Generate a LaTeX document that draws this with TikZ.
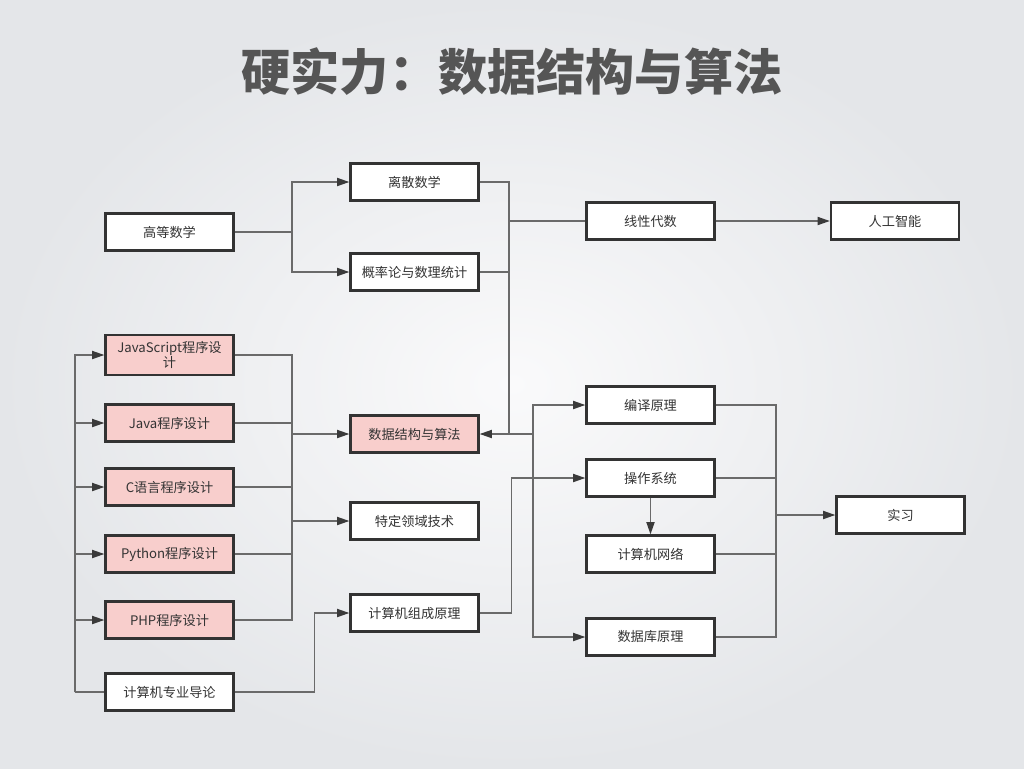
\documentclass[tikz,border=0pt]{standalone}
\usepackage{fontspec}
\setmainfont{Noto Sans CJK SC}
\usetikzlibrary{arrows.meta, positioning}
\definecolor{BoxBorder}{HTML}{333333}
\definecolor{BoxPink}{HTML}{F8CECC}
\definecolor{LineGray}{HTML}{6A6A6A}
\definecolor{TipGray}{HTML}{3A3A3A}
\definecolor{TitleGray}{HTML}{555555}
\definecolor{BgInner}{HTML}{FAFAFB}
\definecolor{BgOuter}{HTML}{E4E6E9}
\tikzset{
    % Node styles
    coursebox/.style={
        rectangle,
        draw=BoxBorder,
        fill=white,
        line width=1.3pt,
        minimum width=2.56cm,
        minimum height=0.74cm,
        align=center,
        text=BoxBorder,
        font=\fontsize{7.5}{9}\selectfont
    },
    keybox/.style={
        coursebox,
        fill=BoxPink
    },
    % Arrow styles
    myline/.style={
        LineGray,
        line width=0.9pt
    },
    myarrow/.style={
        myline,
        -{Triangle[length=7pt,width=4.6pt,color=TipGray]}
    }
}
\begin{document}
\begin{tikzpicture}[x=0.02cm, y=-0.02cm]
    % Background
    \shade[inner color=BgInner, outer color=BgOuter] (0,0) rectangle (1024,768);
    \useasboundingbox (0,0) rectangle (1024,768);

    % Title
    \node[font=\bfseries\fontsize{28}{32}\selectfont, text=TitleGray] (title) at (512,72) {硬实力：数据结构与算法};

    % Maths (top)
    \node[coursebox] (gdsx) at (169.5,232) {高等数学};
    \node[coursebox] (lssx) at (414.5,182) {离散数学};
    \node[coursebox] (glts) at (414.5,272) {概率论与数理统计};
    \node[coursebox] (xxds) at (650.5,221) {线性代数};
    \node[coursebox] (rgzn) at (895,221) {人工智能};

    % Programming (left)
    \node[keybox] (jsbox) at (169.5,355) {JavaScript程序设\\计};
    \node[keybox] (javabox) at (169.5,423) {Java程序设计};
    \node[keybox] (cbox) at (169.5,487) {C语言程序设计};
    \node[keybox] (pybox) at (169.5,554) {Python程序设计};
    \node[keybox] (phpbox) at (169.5,620) {PHP程序设计};
    \node[coursebox] (jsjdl) at (169.5,692) {计算机专业导论};

    % Middle
    \node[keybox] (sjjg) at (414.5,434) {数据结构与算法};
    \node[coursebox] (tdly) at (414.5,521) {特定领域技术};
    \node[coursebox] (jsjzc) at (414.5,613) {计算机组成原理};

    % Systems (right)
    \node[coursebox] (byyl) at (650.5,405) {编译原理};
    \node[coursebox] (czxt) at (650.5,478) {操作系统};
    \node[coursebox] (jsjwl) at (650.5,554) {计算机网络};
    \node[coursebox] (sjkyl) at (650.5,637) {数据库原理};
    \node[coursebox] (sx) at (900.5,515) {实习};

    % Junctions
    \coordinate (jm) at (292,232);
    \coordinate (jr) at (509,434);
    \coordinate (jb) at (533,434);
    \coordinate (jl) at (75,692);
    \coordinate (jp) at (292,434);
    \coordinate (js) at (776,515);

    % Maths links
    \draw[myline] (gdsx.east) -- (jm);
    \draw[myarrow] (jm) |- (lssx.west);
    \draw[myarrow] (jm) |- (glts.west);
    \draw[myline] (lssx.east) -| (jr);
    \draw[myline] (glts.east) -- (glts.east -| jr);
    \draw[myline] (xxds.west) -- (xxds.west -| jr);
    \draw[myarrow] (xxds) -- (rgzn);

    % Into data structures
    \draw[myline] (jr) -- (jb);
    \draw[myarrow] (jb) -- (sjjg.east);
    \draw[myarrow] (jb) |- (byyl.west);
    \draw[myarrow] (jb) |- (sjkyl.west);

    % Programming links
    \draw[myline] (jsjdl.west) -- (jl);
    \foreach \n in {jsbox,javabox,cbox,pybox,phpbox}
        \draw[myarrow] (jl) |- (\n.west);
    \foreach \n in {jsbox,javabox,cbox,pybox,phpbox}
        \draw[myline] (\n.east) -| (jp);
    \draw[myarrow] (jp) -- (sjjg.west);
    \draw[myarrow] (jp) |- (tdly.west);
    \draw[myarrow] (jsjdl.east) -- ++(80,0) |- (jsjzc.west);
    \draw[myarrow] (jsjzc.east) -- ++(32,0) |- (czxt.west);
    \draw[myarrow] (czxt) -- (jsjwl);

    % Internship
    \draw[myline] (byyl.east) -| (js);
    \draw[myline] (sjkyl.east) -| (js);
    \draw[myline] (czxt.east) -- (czxt.east -| js);
    \draw[myline] (jsjwl.east) -- (jsjwl.east -| js);
    \draw[myarrow] (js) -- (sx.west);
\end{tikzpicture}
\end{document}
